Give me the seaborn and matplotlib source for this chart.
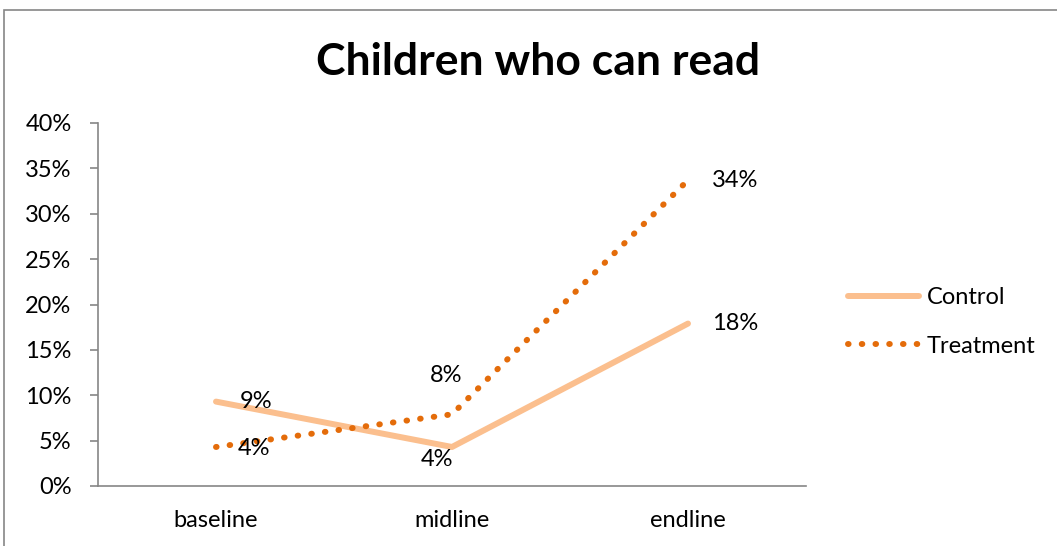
import pandas as pd
import matplotlib.pyplot as plt
import seaborn as sns
from matplotlib.lines import Line2D
from matplotlib.patches import Rectangle
from matplotlib.ticker import PercentFormatter, FixedLocator

rounds = ["baseline", "midline", "endline"]
control = [9.3, 4.3, 17.9]
treatment = [4.3, 7.9, 33.7]
series_names = ["Control", "Treatment"]
series_colors = ["#FBBF8E", "#E46C0A"]

df = pd.DataFrame({"round": rounds * 2,
                   "value": control + treatment,
                   "group": [series_names[0]] * 3 + [series_names[1]] * 3})

sns.set_style("white")
plt.rcParams['font.family'] = ['Lato', 'DejaVu Sans']
plt.rcParams['text.color'] = 'black'
plt.rcParams['xtick.color'] = 'black'
plt.rcParams['ytick.color'] = 'black'

FS = 17
fig = plt.figure(figsize=(10.57, 5.46), dpi=100)
ax = fig.add_axes([98 / 1057, 1 - 486 / 546, (806 - 98) / 1057, (486 - 123) / 546])

dot = (0.1, 2.2)
sns.lineplot(data=df, x="round", y="value", hue="group", style="group",
             palette=series_colors, dashes={"Control": "", "Treatment": dot},
             linewidth=4.3, ax=ax, sort=False, legend=False)
for line in ax.get_lines():
    line.set_dash_capstyle("round")
    line.set_solid_capstyle("round")

ax.set_xlim(-0.5, 2.5)
ax.set_ylim(0, 40)
ax.yaxis.set_major_locator(FixedLocator(range(0, 41, 5)))
ax.yaxis.set_major_formatter(PercentFormatter(decimals=0))
ax.set_xticks([0, 1, 2])
ax.set_xticks([-0.5, 0.5, 1.5, 2.5], minor=True)
ax.tick_params(axis="x", which="major", length=0, labelsize=FS, pad=17)
ax.tick_params(axis="x", which="minor", length=6, color="#868686", width=1.2)
ax.tick_params(axis="y", length=6, color="#868686", width=1.2, labelsize=FS, left=True, pad=13)
ax.set_xlabel("")
ax.set_ylabel("")
for s in ["top", "right"]:
    ax.spines[s].set_visible(False)
for s in ["left", "bottom"]:
    ax.spines[s].set_color("#868686")
    ax.spines[s].set_linewidth(1.2)

# data labels (offsets in points)
offsets = {("Control", 0): (17, 0, "left"), ("Control", 1): (-11, -9, "center"),
           ("Control", 2): (17, 0, "left"),
           ("Treatment", 0): (16, -1, "left"), ("Treatment", 1): (-4, 28, "center"),
           ("Treatment", 2): (17, 0, "left")}
for name, vals in zip(series_names, [control, treatment]):
    for i, v in enumerate(vals):
        dx, dy, ha = offsets[(name, i)]
        ax.annotate(f"{round(v):.0f}%", (i, v), xytext=(dx, dy), textcoords="offset points",
                    fontsize=FS, ha=ha, va="center")

handles = [Line2D([], [], color=series_colors[0], linewidth=4.3, solid_capstyle="round"),
           Line2D([], [], color=series_colors[1], linewidth=4.3, linestyle=(0, dot),
                  dash_capstyle="round")]
fig.legend(handles, series_names, loc="center left",
           bbox_to_anchor=(848 / 1057, 1 - 322 / 546), frameon=False, fontsize=FS,
           handlelength=3.0, labelspacing=1.15, handletextpad=0.35, borderpad=0,
           borderaxespad=0)

fig.text(538 / 1057, 1 - 62 / 546, "Children who can read", fontsize=32, fontweight="bold",
         ha="center", va="center")
fig.patches.append(Rectangle((4 / 1057, -0.1), 1.2, 1 - 10 / 546 + 0.1, transform=fig.transFigure,
                             fill=False, edgecolor="#868686", linewidth=1.2))

fig.savefig("out.png", dpi=100)
